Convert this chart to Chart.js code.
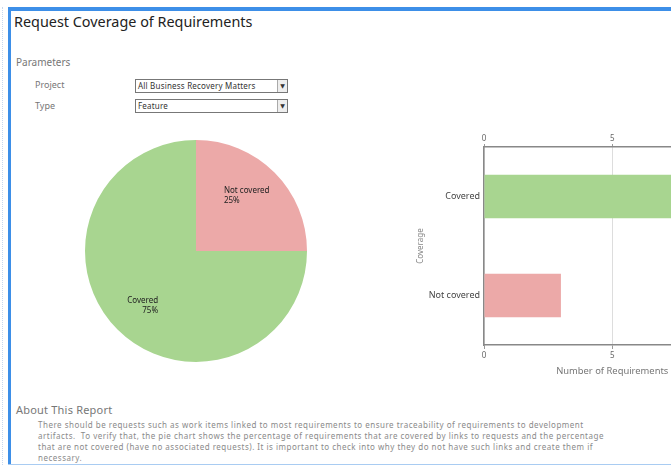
<!DOCTYPE html>
<html>
<head>
<meta charset="utf-8">
<script src="https://cdn.jsdelivr.net/npm/chart.js@4.4.0/dist/chart.umd.min.js"></script>
<style>
    html, body { margin: 0; padding: 0; background: #fff; overflow: hidden; }
    body { width: 671px; height: 468px; position: relative; font-family: "Noto Sans", "DejaVu Sans", sans-serif; }
    .bar-top { position: absolute; left: 8px; top: 7px; width: 663px; height: 4px; background: #3d8fe8; }
    .bar-left { position: absolute; left: 8px; top: 7px; width: 3px; height: 458px; background: #3d8fe8; }
    .bar-bottom { position: absolute; left: 8px; top: 464px; width: 663px; height: 1px; background: #a9ccf2; }
    .dots { position: absolute; left: 2px; top: 7px; height: 458px; width: 2px; border-left: 1px dotted #c7d8ee; }
    .title { position: absolute; left: 14px; top: 12px; font-size: 14.4px; color: #222; }
    .label { position: absolute; font-size: 10px; color: #777; }
    .select { position: absolute; left: 135px; width: 149px; height: 12px; border: 1px solid #777; font-size: 8px; letter-spacing: 0.2px; line-height: 12px; color: #333; padding-left: 2px; overflow: hidden; white-space: nowrap; }
    .select span { position: absolute; right: 0; top: 0; width: 9px; height: 12px; border-left: 1px solid #aaa; background: #eee; text-align: center; font-size: 6px; letter-spacing: 0; }
    .about { position: absolute; left: 16px; top: 402px; font-size: 11px; letter-spacing: 0.2px; color: #777; }
    .text { position: absolute; left: 38px; top: 419px; font-size: 8px; letter-spacing: 0.5px; line-height: 11px; color: #8a8a8a; white-space: nowrap; }
    #pieBox { position: absolute; left: 85px; top: 140px; width: 222px; height: 222px; }
    #barClip { position: absolute; left: 395px; top: 125px; width: 276px; height: 253px; overflow: hidden; }
    #barBox { position: absolute; left: 0; top: 0; width: 352px; height: 253px; }
</style>
</head>
<body>
<div class="dots"></div>
<div class="bar-top"></div>
<div class="bar-left"></div>
<div class="bar-bottom"></div>
<div class="title">Request Coverage of Requirements</div>
<div class="label" style="left:16px;top:55px;">Parameters</div>
<div class="label" style="left:35px;top:78px;font-size:9px;">Project</div>
<div class="label" style="left:35px;top:99px;font-size:9px;">Type</div>
<div class="select" style="top:79px;">All Business Recovery Matters<span>&#9660;</span></div>
<div class="select" style="top:99px;">Feature<span>&#9660;</span></div>
<div id="pieBox"><canvas id="pieChart"></canvas></div>
<div id="barClip"><div id="barBox"><canvas id="barChart"></canvas></div></div>
<div class="about">About This Report</div>
<div class="text">There should be requests such as work items linked to most requirements to ensure traceability of requirements to development<br>
artifacts.&nbsp; To verify that, the pie chart shows the percentage of requirements that are covered by links to requests and the percentage<br>
that are not covered (have no associated requests). It is important to check into why they do not have such links and create them if<br>
necessary.</div>
<script>
    // Data
    const categories = ["Not covered", "Covered"];
    const counts = [3, 9];
    const percentLabels = ["25%", "75%"];
    const barCategories = ["Covered", "Not covered"];
    const barCounts = [9, 3];
    const colors = { "Covered": "#a8d590", "Not covered": "#eca9a8" };

    // Plugin to write name and percentage inside each slice
    const sliceLabels = {
        id: 'sliceLabels',
        afterDatasetsDraw(chart) {
            const ctx = chart.ctx;
            const meta = chart.getDatasetMeta(0);
            ctx.save();
            ctx.font = '8px "Noto Sans", sans-serif';
            ctx.fillStyle = '#222';
            ctx.textBaseline = 'middle';
            meta.data.forEach((arc, i) => {
                const mid = (arc.startAngle + arc.endAngle) / 2;
                const r = arc.outerRadius * 0.7;
                let x = arc.x + Math.cos(mid) * r;
                const y = arc.y + Math.sin(mid) * r;
                if (Math.cos(mid) >= 0) {
                    ctx.textAlign = 'left';
                    x -= 27;
                } else {
                    ctx.textAlign = 'right';
                    x += 17;
                }
                ctx.fillText(categories[i], x, y - 5);
                ctx.fillText(percentLabels[i], x, y + 5);
            });
            ctx.restore();
        }
    };

    new Chart(document.getElementById('pieChart'), {
        type: 'pie',
        data: {
            labels: categories,
            datasets: [{
                data: counts,
                backgroundColor: categories.map(c => colors[c]),
                borderWidth: 0
            }]
        },
        options: {
            responsive: true,
            maintainAspectRatio: false,
            animation: false,
            layout: { padding: 0 },
            plugins: { legend: { display: false }, tooltip: { enabled: false } }
        },
        plugins: [sliceLabels]
    });

    const tickFont = { size: 8, family: '"Noto Sans", sans-serif' };

    new Chart(document.getElementById('barChart'), {
        type: 'bar',
        data: {
            labels: barCategories,
            datasets: [{
                data: barCounts,
                backgroundColor: barCategories.map(c => colors[c]),
                barPercentage: 0.88,
                categoryPercentage: 0.5
            }]
        },
        options: {
            indexAxis: 'y',
            responsive: true,
            maintainAspectRatio: false,
            animation: false,
            layout: { padding: { left: 19, right: 6, top: 0, bottom: 0 } },
            plugins: { legend: { display: false }, tooltip: { enabled: false } },
            scales: {
                x: {
                    position: 'bottom',
                    min: 0, max: 10,
                    ticks: { stepSize: 5, color: '#666', font: tickFont, padding: 2 },
                    grid: { color: '#dddddd', tickLength: 4, tickColor: '#999' },
                    border: { color: '#888', width: 1.5 },
                    title: { display: true, text: 'Number of Requirements', color: '#777', font: { size: 9.4, family: '"Noto Sans", sans-serif' }, padding: 1 },
                    afterFit(scale) { scale.height = 33; }
                },
                x2: {
                    position: 'top',
                    type: 'linear',
                    min: 0, max: 10,
                    ticks: { stepSize: 5, color: '#666', font: tickFont, padding: 0 },
                    grid: { drawOnChartArea: false, tickLength: 3, tickColor: '#999' },
                    border: { color: '#888', width: 1.5 },
                    afterFit(scale) { scale.height = 22; }
                },
                y: {
                    ticks: { color: '#444', font: { size: 9, family: '"Noto Sans", sans-serif' }, padding: -4 },
                    grid: { display: false },
                    border: { color: '#888', width: 1.5 },
                    title: { display: true, text: 'Coverage', color: '#888', font: tickFont, padding: 2 },
                    afterFit(scale) { scale.width = 70; }
                }
            }
        }
    });
</script>
</body>
</html>
